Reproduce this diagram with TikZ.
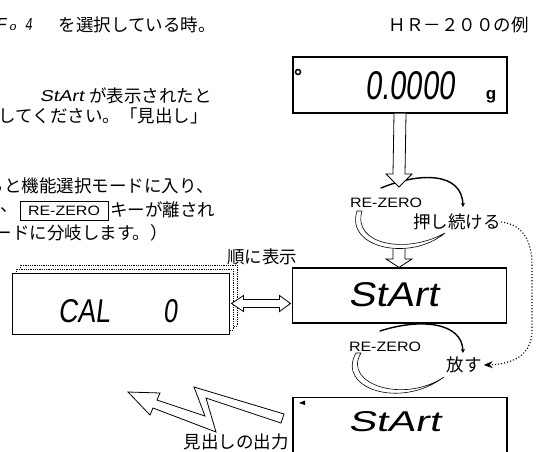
\documentclass[tikz,border=0pt]{standalone}
\usepackage{fontspec}
\usepackage{graphicx}
\usetikzlibrary{arrows.meta,calc}
\newfontfamily\jpfont{Noto Sans CJK JP}
\newfontfamily\segfont[FakeSlant=0.15]{Liberation Sans}
\newfontfamily\hvfont{Liberation Sans}
\newcommand\segtxt[3]{\resizebox{#1pt}{#2pt}{\segfont #3}}
\newcommand\rzlabel{\resizebox{72pt}{9.5pt}{\hvfont RE-ZERO}}
\begin{document}
\begin{tikzpicture}[x=1pt,y=-1pt,
  jp/.style={font=\jpfont\fontsize{17.5}{18}\selectfont, inner sep=0pt},
  plain/.style={inner sep=0pt},
  lcd/.style={draw, line width=1.2pt, fill=white, minimum width=214pt, minimum height=56pt, inner sep=0pt},
  hollow/.style={draw, line width=0.8pt, fill=white, line join=miter},
  loopline/.style={line width=1.4pt, line cap=round},
  tapered/.style={draw, line width=0.6pt, fill=white},
  backcard/.style={draw, densely dotted, line width=0.8pt, fill=white, minimum width=217pt, minimum height=61pt, inner sep=0pt},
  frontcard/.style={draw, line width=1pt, fill=white, minimum width=217pt, minimum height=61pt, inner sep=0pt}]
\useasboundingbox (0,0) rectangle (536,451);

% ---- left text block ----
\node[plain, anchor=south west] (t1a) at (-4,31) {\segtxt{10}{12}{F}\hspace{3pt}\segtxt{7}{6}{o}\hspace{9pt}\segtxt{7}{12}{4}};
\node[jp, anchor=east] (t1) at (216,25) {を選択している時。};
\node[jp, anchor=east] (hr) at (529,25) {ＨＲ－２００の例};
\node[plain, anchor=east] (t2a) at (84,96) {\segtxt{44}{11}{StArt}};
\node[jp, anchor=east] (t2) at (212,96) {が表示されたと};
\node[jp, anchor=east] (t3) at (208,116) {してください。「見出し」};
\node[jp, anchor=east] (t4) at (214,186) {ると機能選択モードに入り、};
\node[jp, anchor=east] (t5a) at (18,210) {、};
\node[draw, line width=0.8pt, minimum width=88pt, minimum height=19pt, inner sep=0pt] (t5b) at (64,210.5) {\rzlabel};
\node[jp, anchor=west] (t5c) at (110,210) {キーが離され};
\node[jp, anchor=east] (t6) at (168,233) {ードに分岐します。）};

% ---- display 1 ----
\node[lcd] (d1) at (400,85) {};
\draw[line width=1.5pt] (298,72) circle (2.5pt);
\node[plain] (v1) at (410,86) {\segtxt{90}{28}{0.0000}};
\node[plain, anchor=base, font=\hvfont\bfseries\fontsize{17}{17}\selectfont] (g1) at (491,99) {g};

% ---- upper loop ----
\draw[loopline, -{Stealth[length=4pt,width=4pt]}] (381,188) .. controls (420,172) and (462,172) .. (463,207);
\draw[tapered] (357,211) .. controls (345,248) and (410,262) .. (445,233)
               .. controls (405,255) and (352,244) .. (362,211) -- cycle;
\coordinate (a1tip) at (399,187);
\draw[hollow] ($(d1.south)+(-6,0)$) -- ($(a1tip)+(-6,-13)$) -- ($(a1tip)+(-13,-13)$) -- (a1tip)
   -- ($(a1tip)+(13,-13)$) -- ($(a1tip)+(6,-13)$) -- ($(d1.south)+(6,0)$);
\node[plain] (rz1) at (386,203) {\rzlabel};
\node[jp] (push) at (457,222) {押し続ける};

% ---- display 2 ----
\node[lcd, minimum height=55pt] (d2) at (399.5,295.5) {};
\coordinate (a2top) at (399,249);
\draw[hollow] ($(a2top)+(-6,0)$) -- ($(a2top)+(-6,10)$) -- ($(a2top)+(-13,10)$) -- ($(d2.north)+(-0.5,0)$)
   -- ($(a2top)+(13,10)$) -- ($(a2top)+(6,10)$) -- ($(a2top)+(6,0)$);
\node[plain] (v2) at (393,295) {\segtxt{90}{24}{StArt}};

% ---- CAL stack ----
\node[backcard] (c3) at (128.5,295.5) {};
\node[backcard] (c2) at (124.5,299.5) {};
\node[frontcard] (cal) at (120.5,303.5) {};
\node[plain] (calt) at (84,311) {\segtxt{52}{23}{CAL}};
\node[plain] (calz) at (170,311) {\segtxt{14}{23}{0}};
\node[jp] (seq) at (262,257) {順に表示};
\draw[hollow] ($(cal.east)+(2,0)$) -- ++(12,-8) -- ++(0,4) -- ++(36,0) -- ++(0,-4) -- ++(11,8)
   -- ++(-11,8) -- ++(0,-4) -- ++(-36,0) -- ++(0,4) -- cycle;

% ---- lower loop ----
\draw[loopline, -{Stealth[length=4pt,width=4pt]}] (380,331) .. controls (420,318) and (462,322) .. (463,353);
\draw[tapered] (356,353) .. controls (336,388) and (400,410) .. (444,377)
               .. controls (404,404) and (342,384) .. (361,353) -- cycle;
\node[plain] (rz2) at (385,347) {\rzlabel};
\node[jp] (release) at (464,365) {放す};
\draw[dotted, line width=1.1pt, -{Stealth[length=9pt,width=7pt]}] (push.east) .. controls (522,224) and (532,240) .. (532,265)
   -- (532,330) .. controls (532,356) and (512,364) .. ($(release.east)+(2,0)$);

% ---- display 3 ----
\node[lcd, minimum height=80pt, anchor=north] (d3) at (400,397) {};
\fill (299,403) -- (305,400.5) -- (305,405) -- cycle;
\node[plain] (v3) at (394,422) {\segtxt{92}{20}{StArt}};

% ---- lightning arrow ----
\draw[hollow] (284,414) -- (194,387) -- (205,416) -- (157,400) -- (160,393) -- (128,392)
   -- (150,415) -- (153,408) -- (216,432) -- (206,398) -- (281,423) -- cycle;
\node[jp, anchor=east] (out) at (289,442) {見出しの出力};
\end{tikzpicture}
\end{document}
